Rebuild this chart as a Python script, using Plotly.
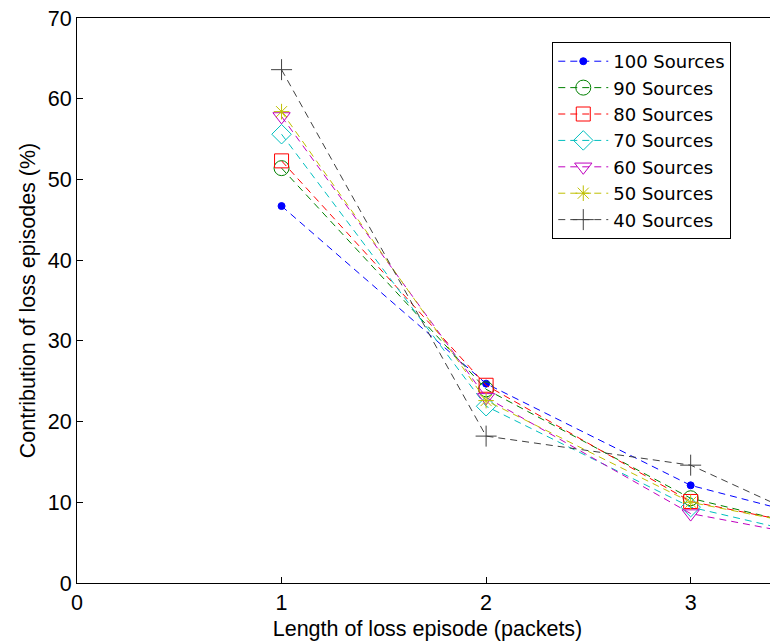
import plotly.graph_objects as go

x_len = [1, 2, 3, 4]
s100 = [46.7, 24.7, 12.1, 5.5]
s90 = [51.4, 24.0, 10.5, 4.4]
s80 = [52.3, 24.5, 10.1, 5.0]
s70 = [55.6, 21.9, 9.4, 3.5]
s60 = [57.8, 23.0, 8.6, 3.8]
s50 = [58.4, 22.6, 10.0, 5.0]
s40 = [63.6, 18.2, 14.6, 3.0]

names = ["100 Sources", "90 Sources", "80 Sources", "70 Sources",
         "60 Sources", "50 Sources", "40 Sources"]
series = [s100, s90, s80, s70, s60, s50, s40]
colors = ["#0000FF", "#008000", "#FF0000", "#00BFBF", "#BF00BF", "#BFBF00", "#404040"]
symbols = ["circle", "circle-open", "square-open", "diamond-open",
           "triangle-down-open", "asterisk-open", "cross-thin-open"]
sizes = [7, 15, 14, 15, 15, 13, 15]

FONT = "Liberation Sans, Arial, sans-serif"
LEGFONT = "DejaVu Sans, Liberation Sans, sans-serif"
AX = 21.5

fig = go.Figure()
for n, s, c, sym, sz in zip(names, series, colors, symbols, sizes):
    fig.add_trace(go.Scatter(
        x=x_len, y=s, name=n, mode="lines+markers",
        line=dict(color=c, width=1, dash="7px,5px"),
        marker=dict(symbol=sym, size=sz, color=c, line=dict(color=c, width=1)),
        cliponaxis=True,
    ))

# page body has an 8px default margin; compensate so the plot area lands where the reference has it
fig.update_layout(
    width=770, height=635,
    margin=dict(l=69, r=0, t=10, b=60),
    paper_bgcolor="white", plot_bgcolor="white",
    font=dict(family=FONT, size=AX, color="black"),
    showlegend=True,
    legend=dict(
        x=0.678, y=0.9575, xanchor="left", yanchor="top",
        bgcolor="white", bordercolor="black", borderwidth=1,
        font=dict(family=LEGFONT, size=18, color="black"),
        tracegroupgap=0, itemwidth=50,
    ),
)
fig.update_xaxes(
    range=[0, 3.427], tickvals=[0, 1, 2, 3],
    showline=True, linecolor="black", linewidth=1, mirror=True,
    ticks="inside", ticklen=6, tickcolor="black",
    showgrid=False, zeroline=False, ticklabeloverflow="allow",
    tickfont=dict(family=FONT, size=AX),
    title=dict(text="Length of loss episode (packets)", font=dict(family=FONT, size=AX), standoff=7),
)
fig.update_yaxes(
    range=[0, 70], tickvals=[0, 10, 20, 30, 40, 50, 60, 70],
    showline=True, linecolor="black", linewidth=1, mirror=False,
    ticks="inside", ticklen=6, tickcolor="black",
    showgrid=False, zeroline=False, ticklabeloverflow="allow",
    tickfont=dict(family=FONT, size=AX),
    title=dict(text="Contribution of loss episodes (%)", font=dict(family=FONT, size=AX), standoff=6),
)

fig.write_html("out.html")
